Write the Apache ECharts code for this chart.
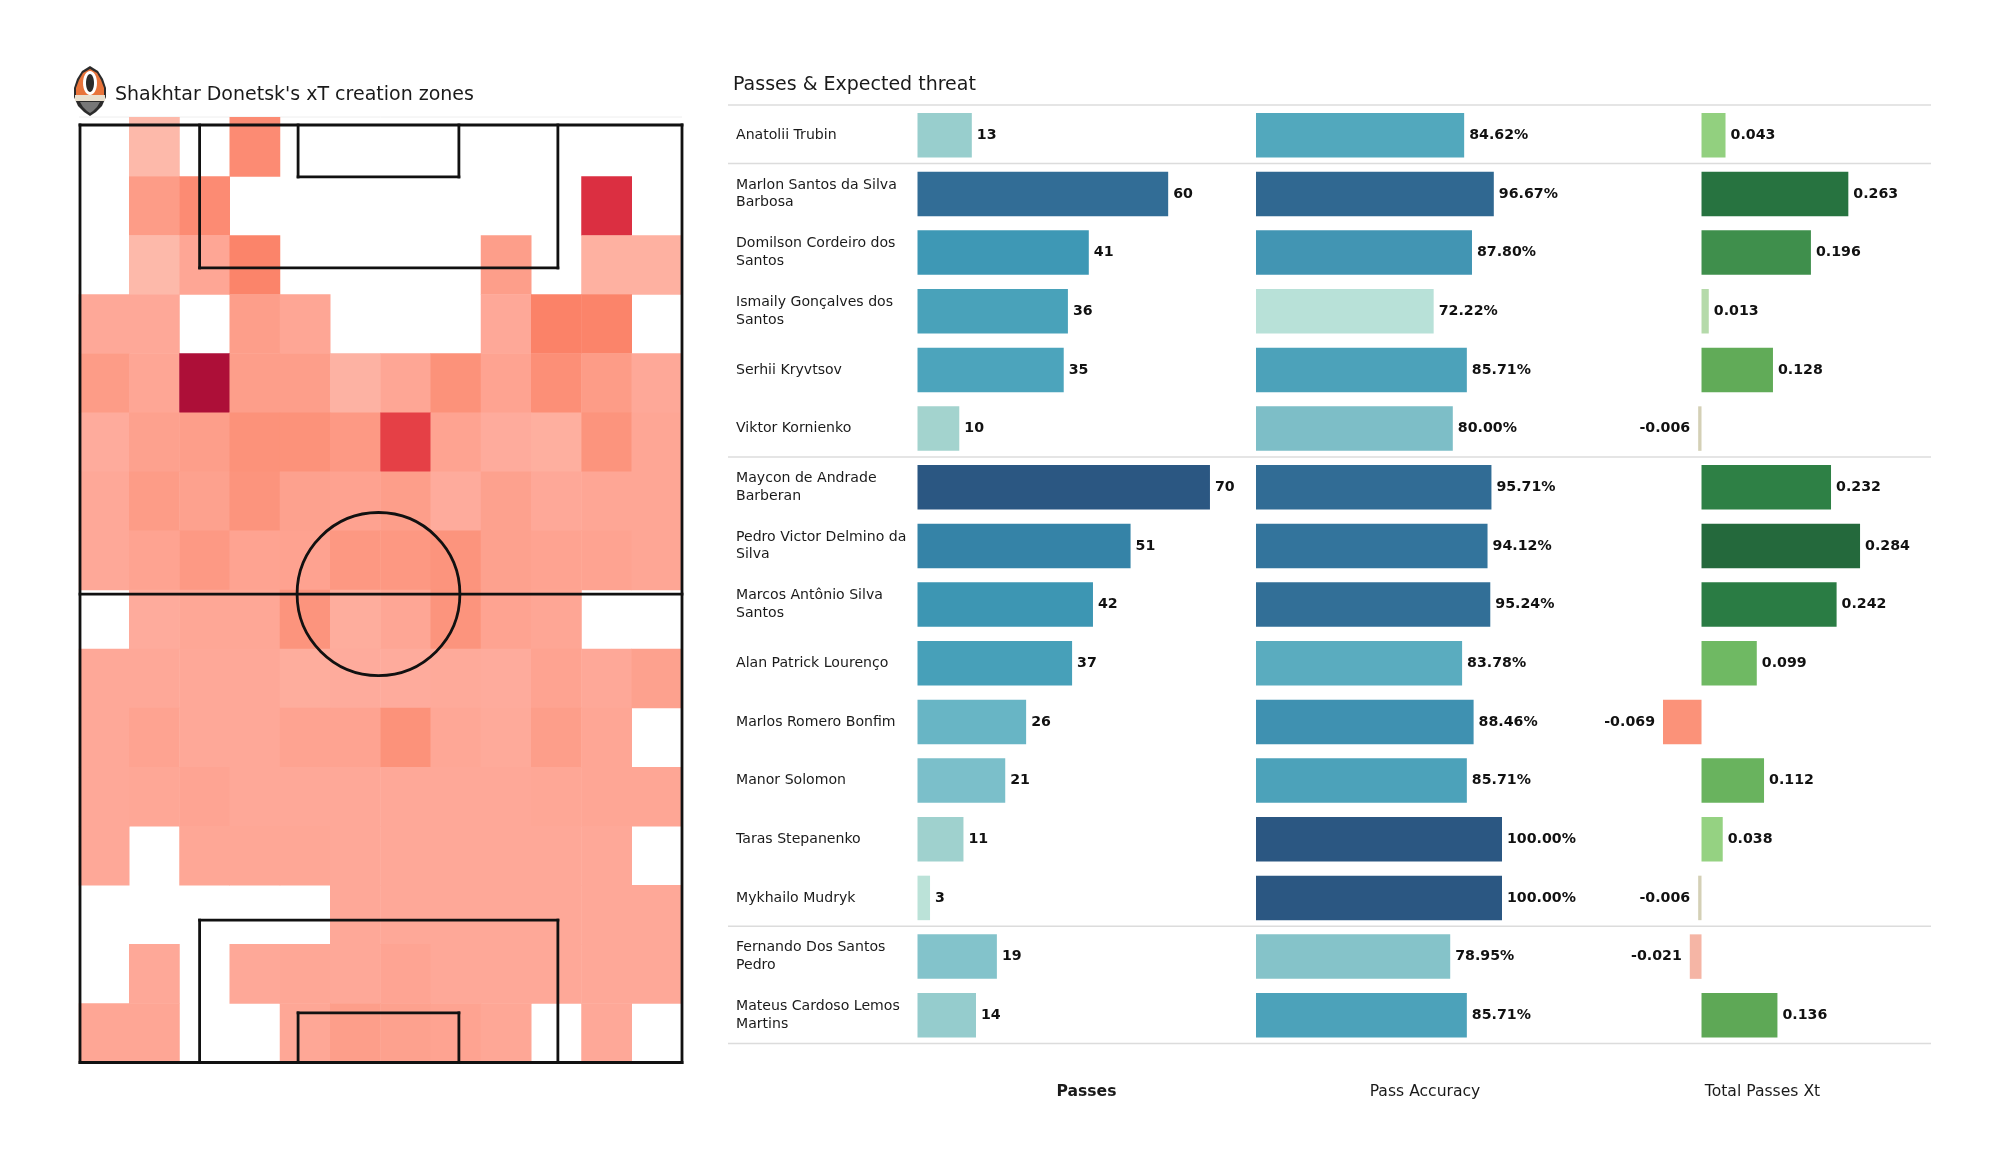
<!DOCTYPE html>
<html><head><meta charset="utf-8">
<style>html,body{margin:0;padding:0;background:#fff}#c{width:2000px;height:1175px}</style>
<script src="https://cdn.jsdelivr.net/npm/echarts@6/dist/echarts.min.js"></script>
</head><body><div id="c"></div>
<script>
const players = ["Anatolii Trubin","Marlon Santos da Silva\nBarbosa","Domilson Cordeiro dos\nSantos","Ismaily Gonçalves dos\nSantos","Serhii Kryvtsov","Viktor Kornienko","Maycon de Andrade\nBarberan","Pedro Victor Delmino da\nSilva","Marcos Antônio Silva\nSantos","Alan Patrick Lourenço","Marlos Romero Bonfim","Manor Solomon","Taras Stepanenko","Mykhailo Mudryk","Fernando Dos Santos\nPedro","Mateus Cardoso Lemos\nMartins"];
const passes = [13,60,41,36,35,10,70,51,42,37,26,21,11,3,19,14];
const accuracy = [84.62,96.67,87.80,72.22,85.71,80.00,95.71,94.12,95.24,83.78,88.46,85.71,100,100,78.95,85.71];
const xt = [0.043,0.263,0.196,0.013,0.128,-0.006,0.232,0.284,0.242,0.099,-0.069,0.112,0.038,-0.006,-0.021,0.136];
const groupBreaks = [0,1,6,14,16];
const N = null;
const heat = [
[N,10,N,42,N,N,N,N,N,N,N,N],
[N,30,42,N,N,N,N,N,N,N,80,N],
[N,10,22,46,N,N,N,N,28,N,15,15],
[20,20,N,28,22,N,N,N,20,47,46,N],
[30,22,100,28,28,14,22,38,24,40,30,20],
[18,26,28,38,38,32,72,24,18,16,36,22],
[20,30,26,36,26,25,28,18,26,20,22,22],
[20,24,32,24,25,33,33,36,26,24,24,22],
[N,18,21,21,36,17,22,36,24,22,N,N],
[20,20,20,20,17,18,18,19,18,24,20,26],
[20,24,20,20,24,24,38,21,19,28,22,N],
[20,21,23,20,20,20,20,20,20,21,22,22],
[20,N,21,21,21,20,20,20,20,20,20,N],
[N,N,N,N,N,20,20,20,20,20,20,20],
[N,20,N,20,21,20,23,20,20,20,20,20],
[22,22,N,N,21,28,26,24,21,N,20,N]
];
const pitchSegments = [
 [0.02,15.87,12,15.87],[0.02,0,12,0],[0.02,0,0.02,15.87],[12,0,12,15.87],[0.02,7.93,12,7.93],
 [2.4,15.87,2.4,13.45],[2.4,13.45,9.53,13.45],[9.53,13.45,9.53,15.87],
 [4.36,15.87,4.36,14.99],[4.36,14.99,7.56,14.99],[7.56,14.99,7.56,15.87],
 [2.4,0,2.4,2.41],[2.4,2.41,9.53,2.41],[9.53,2.41,9.53,0],
 [4.36,0,4.36,0.84],[4.36,0.84,7.56,0.84],[7.56,0.84,7.56,0]
];
const centreCircle = [5.96,7.93,1.62,1.38];

const F = '"DejaVu Sans"';
const TXT = '#1a1a1a';
const heatData = [];
heat.forEach((r,i)=>r.forEach((v,j)=>{ if(v!==null) heatData.push([j,i,v]); }));
const idx = n=>Array.from({length:n},(_,i)=>i);

function hiddenX(name,min,max,bold,gridIndex){
  return {type:'value',gridIndex,min,max,name,nameLocation:'middle',nameGap:39,
    nameTextStyle:{fontFamily:F,fontSize:15.6,color:TXT,fontWeight:bold?'bold':'normal'},
    axisLine:{show:false},axisTick:{show:false},axisLabel:{show:false},splitLine:{show:false}};
}
function hiddenY(gridIndex,showLabels){
  return {type:'category',gridIndex,data:players,inverse:true,
    axisLine:{show:false},axisTick:{show:false},splitLine:{show:false},
    axisLabel:{show:!!showLabels,interval:0,align:'left',margin:181.5,fontFamily:F,fontSize:14.1,color:TXT,lineHeight:17.8}};
}
function barSeries(vals,xi,fmt){
  return {type:'bar',xAxisIndex:xi,yAxisIndex:xi,barWidth:44.5,silent:true,
    data:vals.map(v=>({value:v,label:{position:v<0?'left':'right',distance:v<0?8:5}})),
    label:{show:true,fontFamily:F,fontSize:14.2,fontWeight:'bold',color:'#111',formatter:p=>fmt(p.value)}};
}

const chart = echarts.init(document.getElementById('c'),null,{renderer:'canvas'});
chart.setOption({
  animation:false,backgroundColor:'#fff',
  title:[
   {text:"Shakhtar Donetsk's xT creation zones",left:110,top:81,textStyle:{fontFamily:F,fontSize:19,fontWeight:'normal',color:TXT}},
   {text:"Passes & Expected threat",left:728,top:71,textStyle:{fontFamily:F,fontSize:19,fontWeight:'normal',color:TXT}}
  ],
  grid:[
   {left:917.5,top:105.9,width:338,height:938.7},
   {left:1256,top:105.9,width:338,height:938.7},
   {left:1593.5,top:105.9,width:338,height:938.7},
   {left:79,top:117.3,width:603,height:945.2},
   {left:79,top:117.3,width:603,height:945.2},
   {left:728,top:104.9,width:1203,height:938.7}
  ],
  xAxis:[
   hiddenX('Passes',0,80.9,true,0),
   hiddenX('Pass Accuracy',0,137.4,false,1),
   hiddenX('Total Passes Xt',-0.1935,0.412,false,2),
   {type:'category',gridIndex:3,data:idx(12),show:false},
   {type:'value',gridIndex:4,min:0,max:12,show:false},
   {type:'value',gridIndex:5,min:0,max:1,show:false}
  ],
  yAxis:[
   hiddenY(0,true),hiddenY(1),hiddenY(2),
   {type:'category',gridIndex:3,data:idx(16),inverse:true,show:false},
   {type:'value',gridIndex:4,min:0,max:16,show:false},
   {type:'value',gridIndex:5,min:0,max:16,inverse:true,show:false}
  ],
  visualMap:[
   {type:'continuous',show:false,seriesIndex:0,dimension:0,min:0,max:70,
    inRange:{color:['#c5e8dc','#a3d3ce','#7fc1cb','#58adc1','#3f9ab6','#3585a9','#326d96','#2b5782']}},
   {type:'continuous',show:false,seriesIndex:1,dimension:0,min:70,max:100,
    inRange:{color:['#c8eadf','#a5d6d0','#7dbec7','#4fa6bc','#3887ac','#327098','#2b5782']}},
   {type:'continuous',show:false,seriesIndex:2,dimension:0,min:-0.07,max:0.28,
    inRange:{color:['#fb9178','#f99f88','#f7ab9a','#f4b8a8','#c4dcbd','#b0d9a4','#97d384','#8bcc7a','#7fc56f','#76be68','#6cb660','#64ae5a','#5ca655','#539e52','#4a9750','#41904d','#378a4a','#308246','#297b43','#277340','#24693c']}},
   {type:'continuous',show:false,seriesIndex:3,dimension:2,min:10,max:100,
    inRange:{color:['#fdb9aa','#fea898','#fd9c87','#fc8f77','#fa7c62','#f2604f','#e84447','#db2f41','#c71c3c','#ad0f38']}}
  ],
  series:[
   barSeries(passes,0,v=>String(v)),
   barSeries(accuracy,1,v=>v.toFixed(2)+'%'),
   barSeries(xt,2,v=>v.toFixed(3)),
   {type:'heatmap',xAxisIndex:3,yAxisIndex:3,data:heatData,silent:true,itemStyle:{borderWidth:0}},
   {type:'custom',xAxisIndex:4,yAxisIndex:4,silent:true,z:5,clip:false,data:pitchSegments,
    encode:{x:[0,2],y:[1,3]},
    renderItem:(p,api)=>{
      const a=api.coord([api.value(0),api.value(1)]),b=api.coord([api.value(2),api.value(3)]);
      return {type:'line',shape:{x1:a[0],y1:a[1],x2:b[0],y2:b[1]},style:{stroke:'#111',lineWidth:2.8,lineCap:'square'}};
    }},
   {type:'custom',xAxisIndex:4,yAxisIndex:4,silent:true,z:5,clip:false,data:[centreCircle],
    encode:{x:0,y:1},
    renderItem:(p,api)=>{
      const c=api.coord([api.value(0),api.value(1)]);
      const e=api.coord([api.value(0)+api.value(2),api.value(1)+api.value(3)]);
      return {type:'ellipse',shape:{cx:c[0],cy:c[1],rx:e[0]-c[0],ry:c[1]-e[1]},style:{fill:null,stroke:'#111',lineWidth:2.8}};
    }},
   {type:'custom',xAxisIndex:5,yAxisIndex:5,silent:true,z:1,clip:false,data:groupBreaks.map(v=>[v]),
    encode:{y:0},
    renderItem:(p,api)=>{
      const a=api.coord([0,api.value(0)]),b=api.coord([1,api.value(0)]);
      return {type:'line',shape:{x1:a[0],y1:a[1],x2:b[0],y2:b[1]},style:{stroke:'#dcdcdc',lineWidth:1.5}};
    }}
  ],
  graphic:[
   {type:'line',shape:{x1:79,y1:117,x2:682,y2:117},style:{stroke:'#eeeeee',lineWidth:1},z:0},
   {type:'group',x:90,y:91,z:10,children:[
     {type:'polygon',shape:{points:[[0,-25],[8,-20],[13,-12],[16,-3],[16,6],[12,15],[6,21],[0,25],[-6,21],[-12,15],[-16,6],[-16,-3],[-13,-12],[-8,-20]]},style:{fill:'#2b2b2b'}},
     {type:'polygon',shape:{points:[[0,-22],[7,-18],[11,-11],[14,-3],[14,4],[-14,4],[-14,-3],[-11,-11],[-7,-18]]},style:{fill:'#e8743b'}},
     {type:'ellipse',shape:{cx:0,cy:-8,rx:7,ry:12},style:{fill:'#fff'}},
     {type:'ellipse',shape:{cx:0,cy:-8,rx:4,ry:9},style:{fill:'#2b2b2b'}},
     {type:'rect',shape:{x:-15,y:4,width:30,height:6},style:{fill:'#e9e0cf'}},
     {type:'polygon',shape:{points:[[-10,11],[10,11],[7,16],[3,20],[0,22],[-3,20],[-7,16]]},style:{fill:'#777'}}
   ]}
  ]
});
</script></body></html>
